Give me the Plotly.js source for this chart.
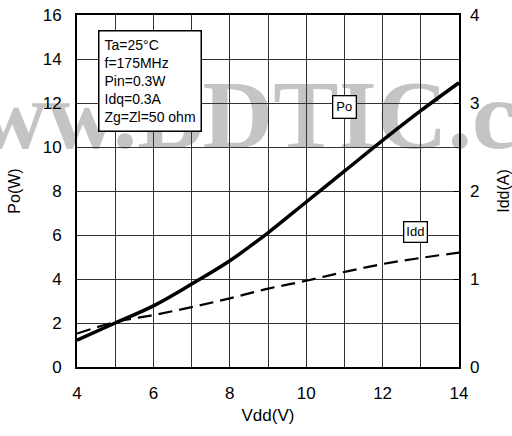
<!DOCTYPE html>
<html>
<head>
<meta charset="utf-8">
<script src="https://cdn.plot.ly/plotly-3.0.1.min.js"></script>
<style>html,body{margin:0;padding:0;background:#fff;}#chart{width:512px;height:436px;}</style>
</head>
<body>
<div id="chart"></div>
<script>
// Data
var vdd = [4, 5, 6, 7, 8, 9, 10, 11, 12, 13, 14];
var po = [1.22, 2.0, 2.78, 3.77, 4.83, 6.1, 7.5, 8.9, 10.3, 11.65, 12.92];
var idd = [0.38, 0.51, 0.59, 0.68, 0.78, 0.89, 0.98, 1.08, 1.17, 1.24, 1.30];
var xTicks = [4, 6, 8, 10, 12, 14];
var conditions = ["Ta=25°C", "f=175MHz", "Pin=0.3W", "Idq=0.3A", "Zg=Zl=50 ohm"];
var watermark = "www.BDTIC.com";

var font = "Liberation Sans, Arial, sans-serif";

var traces = [
  {x: vdd, y: po, type: "scatter", mode: "lines", name: "Po",
   line: {color: "#000", width: 3.5, shape: "spline"}, yaxis: "y", hoverinfo: "skip"},
  {x: vdd, y: idd, type: "scatter", mode: "lines", name: "Idd",
   line: {color: "#000", width: 2.2, dash: "14px,7px", shape: "spline"}, yaxis: "y2", hoverinfo: "skip"}
];

var layout = {
  width: 512, height: 436,
  margin: {l: 77, r: 53, t: 15, b: 69, pad: 0},
  paper_bgcolor: "#fff",
  plot_bgcolor: "rgba(0,0,0,0)",
  showlegend: false,
  font: {family: font, color: "#000", size: 17},
  xaxis: {
    range: [4, 14], tickvals: xTicks, ticktext: xTicks.map(String),
    showgrid: true, gridcolor: "#333", gridwidth: 1,
    minor: {dtick: 1, tick0: 4, showgrid: true, gridcolor: "#333", gridwidth: 1},
    showline: true, linecolor: "#000", linewidth: 2, mirror: true,
    ticks: "", zeroline: false, ticklabelstandoff: 10,
    tickfont: {size: 17, family: font},
    title: {text: "Vdd(V)", font: {size: 17, family: font}, standoff: 7}
  },
  yaxis: {
    range: [0, 16], dtick: 2, tick0: 0,
    showgrid: true, gridcolor: "#333", gridwidth: 1,
    showline: true, linecolor: "#000", linewidth: 2, mirror: true,
    ticks: "", zeroline: false, ticklabelstandoff: 10,
    tickfont: {size: 17, family: font},
    title: {text: "Po(W)", font: {size: 16, family: font}, standoff: 18}
  },
  yaxis2: {
    range: [0, 4], dtick: 1, tick0: 0, overlaying: "y", side: "right",
    showgrid: false, zeroline: false, showline: false,
    ticks: "inside", ticklen: 5, tickcolor: "#000", tickwidth: 1,
    ticklabelstandoff: 10,
    tickfont: {size: 17, family: font},
    title: {text: "Idd(A)", font: {size: 16, family: font}, standoff: 28}
  },
  shapes: [
    {type: "rect", xref: "paper", yref: "paper", x0: 0.506, x1: 0.536, y0: 0.736, y1: 0.756,
     layer: "below", line: {width: 0}, fillcolor: "rgba(0,0,0,0)",
     label: {text: watermark, textposition: "middle center",
             font: {family: "Liberation Serif, Times New Roman, serif", size: 98, color: "#c4c4c4", weight: "bold"}}}
  ],
  annotations: [
    {xref: "paper", yref: "paper", x: 0.055, y: 0.957, xanchor: "left", yanchor: "top",
     text: conditions.join("<br>"), align: "left", showarrow: false,
     font: {size: 14, family: font, color: "#000"},
     bgcolor: "#fff", bordercolor: "#000", borderwidth: 1.5, borderpad: 5},
    {xref: "x", yref: "y", x: 11, y: 11.8, text: "Po", showarrow: false,
     font: {size: 13, family: font, color: "#000"},
     bgcolor: "#fff", bordercolor: "#000", borderwidth: 1.3, borderpad: 3},
    {xref: "x", yref: "y2", x: 12.86, y: 1.53, text: "Idd", showarrow: false,
     font: {size: 13, family: font, color: "#000"},
     bgcolor: "#fff", bordercolor: "#000", borderwidth: 1.3, borderpad: 2}
  ]
};

Plotly.newPlot("chart", traces, layout, {displayModeBar: false, staticPlot: true});
</script>
</body>
</html>
